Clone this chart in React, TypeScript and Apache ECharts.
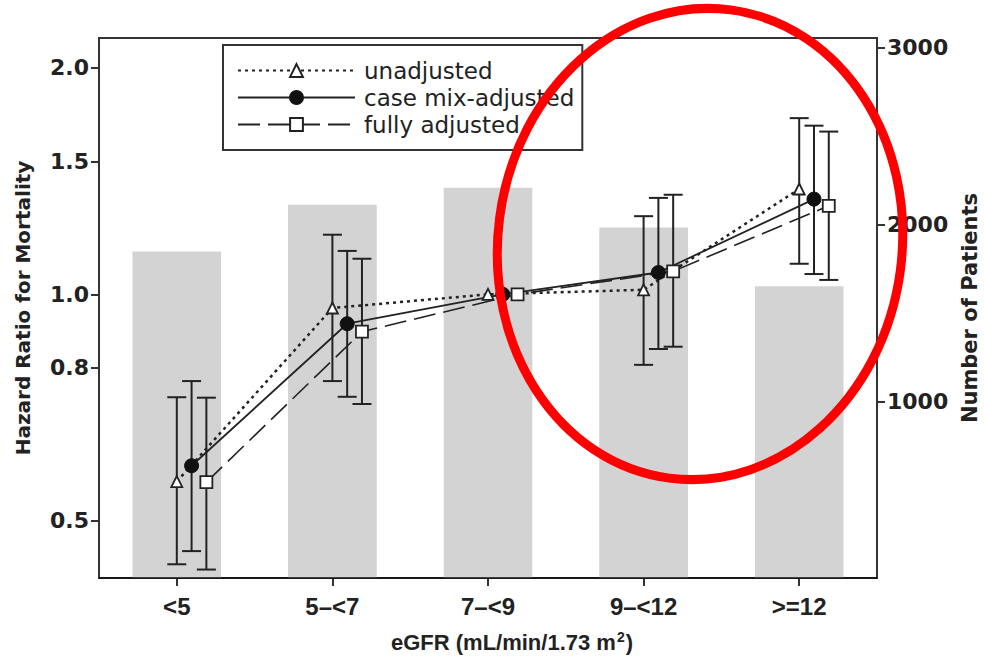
import React, { useEffect, useRef } from "react";
import * as echarts from "echarts";

const categories = ["<5", "5–<7", "7–<9", "9–<12", ">=12"];
const patients = [1848, 2113, 2208, 1983, 1651];

const unadjHR = [0.564, 0.959, 1.0, 1.014, 1.38];
const unadjLo = [0.438, 0.767, null, 0.806, 1.098];
const unadjHi = [0.73, 1.2, null, 1.27, 1.714];

const caseHR = [0.592, 0.914, 1.0, 1.069, 1.338];
const caseLo = [0.456, 0.731, null, 0.846, 1.064];
const caseHi = [0.767, 1.142, null, 1.343, 1.675];

const fullHR = [0.563, 0.892, 1.0, 1.073, 1.311];
const fullLo = [0.431, 0.715, null, 0.852, 1.045];
const fullHi = [0.729, 1.115, null, 1.356, 1.645];

const hrTicks = [0.5, 0.8, 1.0, 1.5, 2.0];
const patientTicks = [1000, 2000, 3000];
const hrMin = 0.42;
const hrMax = 2.19;
const patientMax = 3056;

const seriesNames = ["unadjusted", "case mix-adjusted", "fully adjusted"];
const offsets = [0, 0.095, 0.19];

const ln = Math.log;
const INK = "#222";

function pts(vals: number[], off: number) {
  return vals.map((v, i) => [i + off, ln(v)]);
}
function bars(lo: (number | null)[], hi: (number | null)[], off: number) {
  const out: number[][] = [];
  lo.forEach((l, i) => {
    const h = hi[i];
    if (l != null && h != null) out.push([i + off, ln(l), ln(h)]);
  });
  return out;
}

const errRender = (params: any, api: any) => {
  const x = api.value(0);
  const a = api.coord([x, api.value(1)]);
  const b = api.coord([x, api.value(2)]);
  const hw = 9.5;
  const st = { stroke: INK, lineWidth: 2 };
  return {
    type: "group",
    children: [
      { type: "line", shape: { x1: a[0], y1: a[1], x2: b[0], y2: b[1] }, style: st },
      { type: "line", shape: { x1: a[0] - hw, y1: a[1], x2: a[0] + hw, y2: a[1] }, style: st },
      { type: "line", shape: { x1: b[0] - hw, y1: b[1], x2: b[0] + hw, y2: b[1] }, style: st },
    ],
  };
};

export default function App() {
  const ref = useRef<HTMLDivElement>(null);
  useEffect(() => {
    const chart = echarts.init(ref.current!, null, { renderer: "svg" });
    const tickFont = { fontFamily: "DejaVu Sans", fontWeight: "bold", fontSize: 22, color: INK };
    const titleFont = { fontFamily: "Liberation Sans", fontWeight: "bold", fontSize: 22, color: INK };
    const option: any = {
      animation: false,
      backgroundColor: "#fff",
      grid: {
        left: 99,
        right: 107,
        top: 38,
        bottom: 82,
        show: true,
        borderColor: "#333",
        borderWidth: 2,
        outerBoundsMode: "none",
        containLabel: false,
      },
      legend: {
        data: seriesNames,
        orient: "vertical",
        left: 223,
        top: 45,
        padding: [14, 8, 14, 14],
        itemWidth: 117,
        itemHeight: 16,
        itemGap: 4,
        borderColor: "#333",
        borderWidth: 2,
        textStyle: { fontFamily: "DejaVu Sans", fontSize: 23, color: INK, padding: [0, 0, 0, 4] },
        selectedMode: false,
      },
      xAxis: [
        {
          type: "category",
          data: categories,
          boundaryGap: true,
          axisLine: { show: true, onZero: false, lineStyle: { color: "#333", width: 2 } },
          axisTick: { show: true, alignWithLabel: true, length: 8, lineStyle: { color: "#333", width: 2 } },
          axisLabel: { fontFamily: "Liberation Sans", fontWeight: "bold", fontSize: 24, color: INK, margin: 16 },
          name: "{t|eGFR (mL/min/1.73 m}{sup|2}{t|)}",
          nameLocation: "middle",
          nameGap: 52,
          nameTextStyle: {
            ...titleFont,
            padding: [0, 0, 0, 48],
            rich: {
              t: { ...titleFont },
              sup: { ...titleFont, fontSize: 14, verticalAlign: "top", padding: [0, 1, 11, 1] },
            },
          },
        },
        { type: "value", min: -0.5, max: 4.5, show: false },
      ],
      yAxis: [
        {
          type: "value",
          min: ln(hrMin),
          max: ln(hrMax),
          axisLine: { show: true, onZero: false, lineStyle: { color: "#333", width: 2 } },
          axisTick: { show: true, length: 8, customValues: hrTicks.map(ln), lineStyle: { color: "#333", width: 2 } },
          axisLabel: {
            ...tickFont,
            margin: 10,
            customValues: hrTicks.map(ln),
            formatter: (v: number) => Math.exp(v).toFixed(1),
          },
          splitLine: { show: false },
          name: "Hazard Ratio for Mortality",
          nameLocation: "middle",
          nameRotate: 90,
          nameGap: 66,
          nameTextStyle: { fontFamily: "DejaVu Sans", fontWeight: "bold", fontSize: 20, color: INK },
        },
        {
          type: "value",
          position: "right",
          min: 0,
          max: patientMax,
          axisLine: { show: true, onZero: false, lineStyle: { color: "#333", width: 2 } },
          axisTick: { show: true, length: 8, customValues: patientTicks, lineStyle: { color: "#333", width: 2 } },
          axisLabel: { ...tickFont, margin: 10, customValues: patientTicks, formatter: (v: number) => String(v) },
          splitLine: { show: false },
          name: "Number of Patients",
          nameLocation: "middle",
          nameRotate: 90,
          nameGap: 78,
          nameTextStyle: { fontFamily: "DejaVu Sans", fontWeight: "bold", fontSize: 21, color: INK },
        },
      ],
      series: [
        {
          type: "bar",
          name: "patients",
          xAxisIndex: 0,
          yAxisIndex: 1,
          data: patients,
          barWidth: "57%",
          itemStyle: { color: "#d3d3d3" },
          silent: true,
          z: 1,
          markLine: {
            silent: true,
            symbol: "none",
            label: { show: false },
            lineStyle: { color: "#111", width: 1.5, type: "solid" },
            data: [{ yAxis: 0 }],
          },
        },
        {
          type: "custom",
          name: "err-u",
          xAxisIndex: 1,
          yAxisIndex: 0,
          data: bars(unadjLo, unadjHi, offsets[0]),
          renderItem: errRender,
          encode: { x: 0, y: [1, 2] },
          z: 3,
        },
        {
          type: "custom",
          name: "err-c",
          xAxisIndex: 1,
          yAxisIndex: 0,
          data: bars(caseLo, caseHi, offsets[1]),
          renderItem: errRender,
          encode: { x: 0, y: [1, 2] },
          z: 3,
        },
        {
          type: "custom",
          name: "err-f",
          xAxisIndex: 1,
          yAxisIndex: 0,
          data: bars(fullLo, fullHi, offsets[2]),
          renderItem: errRender,
          encode: { x: 0, y: [1, 2] },
          z: 3,
        },
        {
          type: "line",
          name: seriesNames[0],
          xAxisIndex: 1,
          yAxisIndex: 0,
          data: pts(unadjHR, offsets[0]),
          symbol: "triangle",
          symbolSize: 11,
          showAllSymbol: true,
          lineStyle: { color: INK, width: 2.5, type: [3, 4] },
          itemStyle: { color: "#fff", borderColor: INK, borderWidth: 1.8 },
          z: 5,
        },
        {
          type: "line",
          name: seriesNames[1],
          xAxisIndex: 1,
          yAxisIndex: 0,
          data: pts(caseHR, offsets[1]),
          symbol: "circle",
          symbolSize: 14,
          showAllSymbol: true,
          lineStyle: { color: INK, width: 1.8, type: "solid" },
          itemStyle: { color: "#111", borderColor: "#111", borderWidth: 1 },
          z: 5,
        },
        {
          type: "line",
          name: seriesNames[2],
          xAxisIndex: 1,
          yAxisIndex: 0,
          data: pts(fullHR, offsets[2]),
          symbol: "rect",
          symbolSize: 12,
          showAllSymbol: true,
          lineStyle: { color: INK, width: 1.6, type: [22, 8] },
          itemStyle: { color: "#fff", borderColor: INK, borderWidth: 1.8 },
          z: 5,
        },
      ],
      graphic: [
        {
          type: "ellipse",
          x: 700,
          y: 244,
          rotation: -0.13,
          shape: { cx: 0, cy: 0, rx: 202, ry: 236 },
          style: { fill: "none", stroke: "#ff0000", lineWidth: 9 },
          z: 100,
          silent: true,
        },
      ],
    };
    chart.setOption(option);
    return () => chart.dispose();
  }, []);
  return (
    <div
      ref={ref}
      style={{ position: "fixed", left: 0, top: 0, width: 984, height: 660, background: "#fff" }}
    />
  );
}
